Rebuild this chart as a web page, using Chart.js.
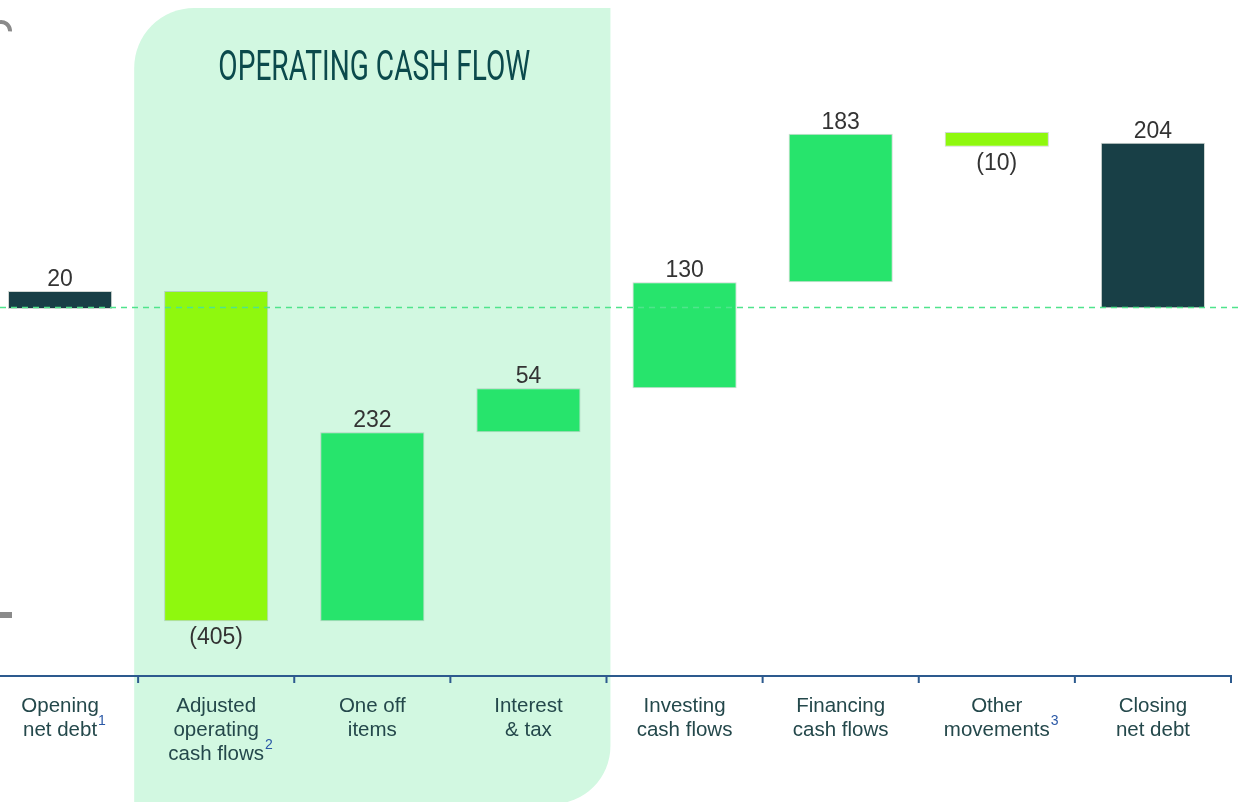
<!DOCTYPE html>
<html>
<head>
<meta charset="utf-8">
<script src="https://cdn.jsdelivr.net/npm/chart.js@4.4.1/dist/chart.umd.min.js"></script>
<style>
    html, body { margin: 0; padding: 0; background: #ffffff; overflow: hidden; }
    #wrap { position: relative; width: 1239px; height: 802px; overflow: hidden; }
    #chart { position: absolute; left: -18px; top: 0; }
</style>
</head>
<body>
<div id="wrap"><canvas id="chart" width="1257" height="802"></canvas></div>
<script>
// Chart data
const categories = [
    ['Opening', 'net debt'],
    ['Adjusted', 'operating', 'cash flows'],
    ['One off', 'items'],
    ['Interest', '& tax'],
    ['Investing', 'cash flows'],
    ['Financing', 'cash flows'],
    ['Other', 'movements'],
    ['Closing', 'net debt']
];
const footnotes = ['1', '2', '', '', '', '', '3', ''];
const barStart = [-2, 20, -385, -153, -99, 31, 215, -1];
const barEnd = [20, -385, -153, -99, 31, 213, 197, 202];
const valueLabels = ['20', '(405)', '232', '54', '130', '183', '(10)', '204'];
const barColors = ['#183f46', '#8ff80e', '#27e46c', '#27e46c', '#27e46c', '#27e46c', '#8ff80e', '#183f46'];
const sectionTitle = 'OPERATING CASH FLOW';

const OFFSET = 18; // canvas is shifted left by this much

// Shaded "operating cash flow" panel behind the chart
const panelPlugin = {
    id: 'panel',
    beforeDatasetsDraw(chart) {
        const ctx = chart.ctx;
        const x = chart.scales.x;
        const left = x.getPixelForValue(1) - 82;
        const right = x.getPixelForValue(3) + 82;
        const top = 8;
        const bottom = chart.height + 2;
        const rTL = 60, rBR = 58;
        ctx.save();
        ctx.fillStyle = '#d2f8e1';
        ctx.beginPath();
        ctx.moveTo(left + rTL, top);
        ctx.lineTo(right, top);
        ctx.lineTo(right, bottom - rBR);
        ctx.arcTo(right, bottom, right - rBR, bottom, rBR);
        ctx.lineTo(left, bottom);
        ctx.lineTo(left, top + rTL);
        ctx.arcTo(left, top, left + rTL, top, rTL);
        ctx.closePath();
        ctx.fill();

        // title, squeezed to a condensed look
        ctx.fillStyle = '#0b4a4c';
        ctx.font = '400 42px Roboto, "Liberation Sans", sans-serif';
        const w = ctx.measureText(sectionTitle).width;
        const cx = (left + right) / 2 + 2;
        ctx.translate(cx, 80);
        ctx.scale(312 / w, 1);
        ctx.textAlign = 'center';
        ctx.textBaseline = 'alphabetic';
        ctx.fillText(sectionTitle, 0, 0);
        ctx.restore();

        // cropped grey marks on the left edge
        ctx.save();
        ctx.strokeStyle = '#8a8a8a';
        ctx.lineWidth = 4;
        ctx.beginPath();
        ctx.arc(OFFSET + 1, 31, 9, -Math.PI * 0.55, 0.05);
        ctx.stroke();
        ctx.fillStyle = '#8a8a8a';
        ctx.fillRect(OFFSET, 612, 12, 6);
        ctx.restore();
    }
};

// Axis, zero line, value labels and category labels
const overlayPlugin = {
    id: 'overlay',
    afterDatasetsDraw(chart) {
        const ctx = chart.ctx;
        const x = chart.scales.x;
        const y = chart.scales.y;
        const area = chart.chartArea;
        const step = x.getPixelForValue(1) - x.getPixelForValue(0);

        // dashed zero line
        const y0 = Math.round(y.getPixelForValue(0)) + 0.5;
        ctx.save();
        ctx.strokeStyle = '#4fe48c';
        ctx.lineWidth = 1.5;
        ctx.setLineDash([6, 5]);
        ctx.beginPath();
        ctx.moveTo(OFFSET, y0);
        ctx.lineTo(chart.width, y0);
        ctx.stroke();
        ctx.restore();

        // x axis
        const ay = area.bottom;
        ctx.save();
        ctx.strokeStyle = '#2d5a8e';
        ctx.lineWidth = 2;
        ctx.beginPath();
        ctx.moveTo(OFFSET, ay);
        ctx.lineTo(x.getPixelForValue(7) + step / 2 + 1, ay);
        for (let i = 1; i <= categories.length; i++) {
            const bx = x.getPixelForValue(i - 1) + step / 2;
            ctx.moveTo(bx, ay);
            ctx.lineTo(bx, ay + 7);
        }
        ctx.stroke();
        ctx.restore();

        // value labels
        ctx.save();
        ctx.fillStyle = '#333333';
        ctx.font = '23px "Liberation Sans", Arial, sans-serif';
        ctx.textAlign = 'center';
        valueLabels.forEach((txt, i) => {
            const cx = x.getPixelForValue(i);
            if (barEnd[i] >= barStart[i]) {
                ctx.textBaseline = 'alphabetic';
                ctx.fillText(txt, cx, y.getPixelForValue(Math.max(barStart[i], barEnd[i])) - 5);
            } else {
                ctx.textBaseline = 'top';
                ctx.fillText(txt, cx, y.getPixelForValue(Math.min(barStart[i], barEnd[i])) + 5);
            }
        });
        ctx.restore();

        // category labels with footnote markers
        ctx.save();
        ctx.textBaseline = 'middle';
        categories.forEach((lines, i) => {
            const cx = x.getPixelForValue(i);
            lines.forEach((line, j) => {
                const ly = 706 + j * 24;
                ctx.font = '20.5px "Liberation Sans", Arial, sans-serif';
                ctx.fillStyle = '#24484b';
                ctx.textAlign = 'center';
                ctx.fillText(line, cx, ly);
                if (j === lines.length - 1 && footnotes[i]) {
                    const w = ctx.measureText(line).width;
                    ctx.font = '14px "Liberation Sans", Arial, sans-serif';
                    ctx.fillStyle = '#2a58a6';
                    ctx.textAlign = 'left';
                    ctx.fillText(footnotes[i], cx + w / 2 + 1, ly - 9);
                }
            });
        });
        ctx.restore();
    }
};

new Chart(document.getElementById('chart'), {
    type: 'bar',
    data: {
        labels: categories.map(c => c.join(' ')),
        datasets: [{
            data: barStart.map((s, i) => [s, barEnd[i]]),
            backgroundColor: barColors,
            borderColor: 'rgba(120, 140, 130, 0.35)',
            borderWidth: 1,
            borderSkipped: false,
            barPercentage: 0.667,
            categoryPercentage: 1
        }]
    },
    options: {
        responsive: false,
        animation: false,
        devicePixelRatio: 1,
        layout: { padding: { top: 0, bottom: 126, left: 0, right: 8 } },
        plugins: {
            legend: { display: false },
            tooltip: { enabled: false }
        },
        scales: {
            x: { display: false, offset: true, grid: { display: false } },
            y: { display: false, min: -452, max: 377 }
        }
    },
    plugins: [panelPlugin, overlayPlugin]
});
</script>
</body>
</html>
